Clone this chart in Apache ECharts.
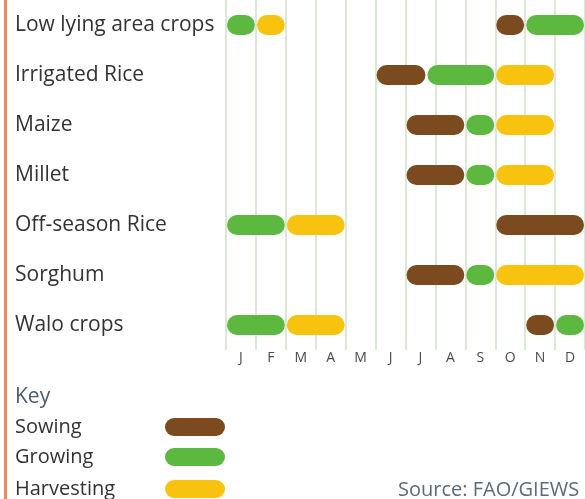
<!DOCTYPE html>
<html>
<head>
<meta charset="utf-8">
<script src="https://cdn.jsdelivr.net/npm/echarts@6/dist/echarts.min.js"></script>
<style>
  html, body { margin: 0; padding: 0; background: #fff; }
  #chart { width: 585px; height: 499px; }
</style>
</head>
<body>
<div id="chart"></div>
<script>
const crops = ["Low lying area crops", "Irrigated Rice", "Maize", "Millet", "Off-season Rice", "Sorghum", "Walo crops"];
const months = ["J", "F", "M", "A", "M", "J", "J", "A", "S", "O", "N", "D"];

// [start month, end month, crop index], months counted from 0 = start of January
const sowing = [[9, 10, 0], [5, 6.7, 1], [6, 8, 2], [6, 8, 3], [9, 12, 4], [6, 8, 5], [10, 11, 6]];
const growing = [[0, 1, 0], [10, 12, 0], [6.7, 9, 1], [8, 9, 2], [8, 9, 3], [0, 2, 4], [8, 9, 5], [0, 2, 6], [11, 12, 6]];
const harvesting = [[1, 2, 0], [9, 11, 1], [9, 11, 2], [9, 11, 3], [2, 4, 4], [9, 12, 5], [2, 4, 6]];

const phases = ["Sowing", "Growing", "Harvesting"];
const colors = { Sowing: "#7b4a1f", Growing: "#5cb83e", Harvesting: "#f8c30f" };

const chart = echarts.init(document.getElementById("chart"));

function pill(color) {
  return function (params, api) {
    const s = api.coord([api.value(0), api.value(2)]);
    const e = api.coord([api.value(1), api.value(2)]);
    const h = 20;
    return {
      type: "rect",
      shape: { x: s[0] + 1, y: s[1] - h / 2, width: e[0] - s[0] - 2, height: h, r: h / 2 },
      style: { fill: color },
    };
  };
}

function phase(name, data) {
  return {
    name: name,
    type: "custom",
    renderItem: pill(colors[name]),
    encode: { x: [0, 1], y: 2 },
    itemStyle: { color: colors[name] },
    data: data,
  };
}

// one legend per key row so the rows sit where the reference has them
const keyTops = [417, 447, 479];
const legends = phases.map((name, i) => ({
  left: 15,
  top: keyTops[i],
  align: "right",
  selectedMode: false,
  itemWidth: 60,
  itemHeight: 18,
  padding: 0,
  icon: "path://M9,0 H51 A9,9 0 0 1 51,18 H9 A9,9 0 0 1 9,0 Z",
  formatter: "{t|{name}}",
  textStyle: {
    color: "#333",
    fontSize: 20,
    fontFamily: "Open Sans",
    rich: { t: { width: 145, align: "left", color: "#333", fontSize: 20, fontFamily: "Open Sans" } },
  },
  data: [name],
}));

const option = {
  animation: false,
  grid: { left: 226, top: 0, width: 360, height: 350 },
  xAxis: [
    {
      type: "value",
      min: 0,
      max: 12,
      interval: 1,
      axisLabel: { show: false },
      axisLine: { show: false },
      axisTick: { show: false },
      splitLine: { lineStyle: { color: "#dce8d6", width: 2 } },
    },
    {
      type: "category",
      data: months,
      position: "bottom",
      boundaryGap: true,
      axisLine: { show: false },
      axisTick: { show: false },
      axisLabel: { color: "#4a4a4a", fontSize: 14, fontFamily: "Open Sans", margin: 1 },
    },
  ],
  yAxis: {
    type: "category",
    inverse: true,
    data: crops,
    axisLine: { show: false },
    axisTick: { show: false },
    axisLabel: {
      align: "left",
      margin: 211,
      color: "#333",
      fontSize: 21,
      fontFamily: "Open Sans",
    },
  },
  legend: legends,
  graphic: [
    {
      type: "rect",
      shape: { x: 4, y: 0, width: 3, height: 499 },
      style: { fill: "#ec8a5e" },
    },
    {
      type: "text",
      left: 15,
      top: 387,
      style: { text: "Key", fill: "#4a5d6e", fontSize: 21, fontFamily: "Open Sans" },
    },
    {
      type: "text",
      left: 398,
      top: 480,
      style: { text: "Source: FAO/GIEWS", fill: "#5b6b78", fontSize: 20, fontFamily: "Open Sans" },
    },
  ],
  series: phases.map((name, i) => phase(name, [sowing, growing, harvesting][i])),
};

chart.setOption(option);
</script>
</body>
</html>
